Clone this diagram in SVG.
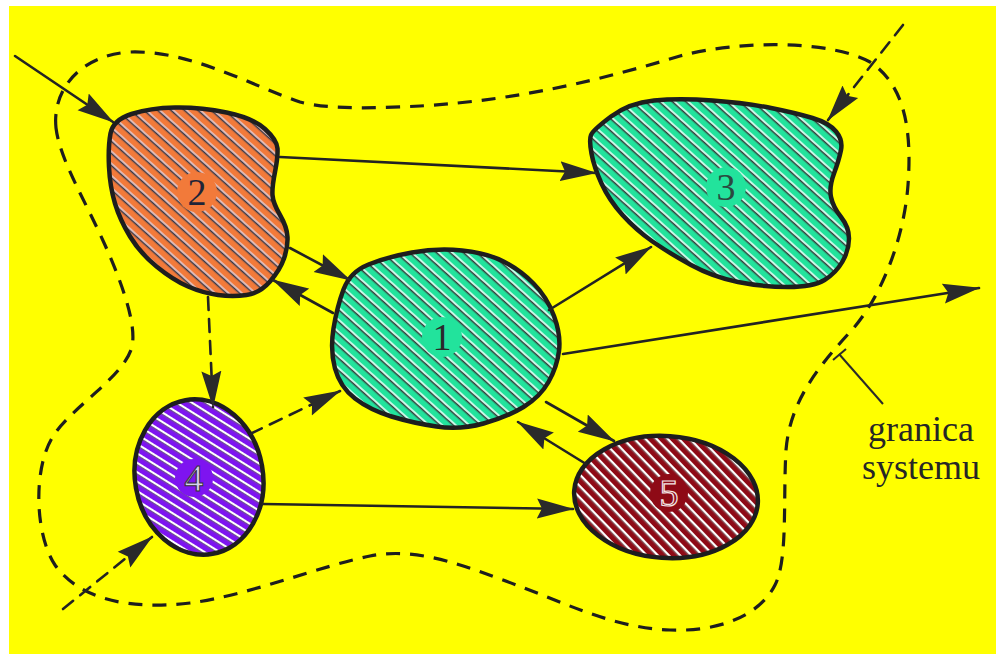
<svg xmlns="http://www.w3.org/2000/svg" width="996" height="654" viewBox="0 0 996 654">
<style>
.node{stroke:#1e1e1e;stroke-width:4.5;stroke-linejoin:round}
.conn{fill:none;stroke:#232323;stroke-width:2.6;stroke-linecap:round}
.dash{stroke-dasharray:13 9}
.bound{fill:none;stroke:#1e1e1e;stroke-width:3.2;stroke-dasharray:14 10}
.num{font-family:"Liberation Serif","Times New Roman",serif;font-size:38px;text-anchor:middle}
.lbl{font-family:"Liberation Serif","Times New Roman",serif;font-size:36px;text-anchor:middle;fill:#262626}
</style>
<defs>
<marker id="ah" markerUnits="userSpaceOnUse" markerWidth="38" markerHeight="22" refX="36" refY="11" orient="auto">
<path d="M0,1 L37,11 L0,21 L5,11 Z" fill="#2a2a2a"/>
</marker>
<pattern id="hGreen" width="9" height="9" patternUnits="userSpaceOnUse" patternTransform="rotate(42)">
<rect width="9" height="9" fill="#22E39C"/>
<line x1="0" y1="2" x2="9" y2="2" stroke="#ffffff" stroke-width="1.5"/>
<line x1="0" y1="3.7" x2="9" y2="3.7" stroke="#3a3a3a" stroke-width="1.4"/>
</pattern>
<pattern id="hOrange" width="9" height="9" patternUnits="userSpaceOnUse" patternTransform="rotate(42)">
<rect width="9" height="9" fill="#F27A3A"/>
<line x1="0" y1="2" x2="9" y2="2" stroke="#dfe4ff" stroke-width="1.3"/>
<line x1="0" y1="3.6" x2="9" y2="3.6" stroke="#33384a" stroke-width="1.4"/>
</pattern>
<pattern id="hPurple" width="8" height="8" patternUnits="userSpaceOnUse" patternTransform="rotate(42)">
<rect width="8" height="8" fill="#7E14F0"/>
<line x1="0" y1="2" x2="8" y2="2" stroke="#ffffff" stroke-width="2"/>
<line x1="0" y1="3.7" x2="8" y2="3.7" stroke="#6a6a6a" stroke-width="0.9"/>
</pattern>
<pattern id="hRed" width="8" height="8" patternUnits="userSpaceOnUse" patternTransform="rotate(42)">
<rect width="8" height="8" fill="#8E0A16"/>
<line x1="0" y1="2" x2="8" y2="2" stroke="#ffffff" stroke-width="2"/>
<line x1="0" y1="3.7" x2="8" y2="3.7" stroke="#888" stroke-width="0.9"/>
</pattern>
</defs>

<rect x="0" y="0" width="996" height="654" fill="#ffffff"/>
<rect x="9" y="6" width="987" height="648" fill="#FFFF00"/>

<g id="boundary">
<path class="bound" d="M56,128 C52,90 80,55 130,52 C190,50 250,85 300,102 C330,110 380,108 420,106 C520,100 600,80 680,56 C740,40 830,40 870,62 C905,85 912,130 908,185 C904,240 880,300 850,332 C820,365 790,400 786,450 C783,500 788,560 775,585 C760,615 720,632 670,630 C610,628 560,600 500,579 C450,560 410,548 370,556 C320,566 250,595 190,603 C130,610 80,600 55,565 C35,535 33,470 52,438 C70,408 120,380 131,350 C138,330 125,290 105,245 C85,200 60,160 56,128 Z"/>
<line x1="839" y1="354" x2="883" y2="404" stroke="#2a2a2a" stroke-width="2"/>
<line x1="833" y1="360" x2="846" y2="349" stroke="#2a2a2a" stroke-width="2"/>
<text class="lbl" x="921" y="441">granica</text>
<text class="lbl" x="921" y="479">systemu</text>
</g>

<g id="node2">
<path class="node" fill="url(#hOrange)" d="M110.5,133.5 Q113,120 131.5,114 Q150,108 175,107.5 Q200,107 226.5,112.5 Q253,118 265,129 Q277,140 277.5,148.5 Q278,157 275,172 Q272,187 272.5,195 Q273,203 280,215 Q287,227 287.5,237 Q288,247 284,258.5 Q280,270 270,281.5 Q260,293 246.5,295 Q233,297 218,295 Q203,293 188,286.5 Q173,280 156.5,266.5 Q140,253 130,236.5 Q120,220 115,203.5 Q110,187 109,167 Q108,147 110.5,133.5 Z"/>
<circle cx="197" cy="192" r="20" fill="#F27A3A"/>
<text class="num" x="197" y="205" fill="#1e2438">2</text>
</g>

<g id="node3">
<path class="node" fill="url(#hGreen)" d="M591,135 Q593,130 611,116.5 Q629,103 654,100.5 Q679,98 712.5,100.5 Q746,103 771,108 Q796,113 812.5,118 Q829,123 836,131.5 Q843,140 841,150 Q839,160 834,173.5 Q829,187 831,197 Q833,207 841,217 Q849,227 849,238.5 Q849,250 842.5,261.5 Q836,273 824.5,280 Q813,287 788,287 Q763,287 738,282 Q713,277 691,265 Q669,253 652.5,241.5 Q636,230 622.5,215 Q609,200 601.5,183.5 Q594,167 591.5,153.5 Q589,140 591,135 Z"/>
<circle cx="726" cy="187" r="20" fill="#22E39C"/>
<text class="num" x="726" y="200" fill="#2a4a40">3</text>
</g>

<g id="node1">
<path class="node" fill="url(#hGreen)" d="M333.5,328.5 Q337,307 343.5,289.5 Q350,272 368.5,264.5 Q387,257 412,252.5 Q437,248 462,250.5 Q487,253 503.5,261.5 Q520,270 533.5,283.5 Q547,297 554,316 Q561,335 559,351 Q557,367 548.5,382 Q540,397 523.5,407 Q507,417 483.5,423.5 Q460,430 436.5,426.5 Q413,423 391.5,416.5 Q370,410 355,398.5 Q340,387 335,368.5 Q330,350 333.5,328.5 Z"/>
<circle cx="442" cy="337" r="20" fill="#22E39C"/>
<text class="num" x="442" y="350" fill="#2a2a2a">1</text>
</g>

<g id="node4">
<ellipse class="node" fill="url(#hPurple)" cx="199" cy="477" rx="64" ry="78" transform="rotate(-10 199 477)"/>
<circle cx="194" cy="478" r="19" fill="#7E14F0"/>
<text class="num" x="194" y="491" fill="#d8d0f0" stroke="#333" stroke-width="1">4</text>
</g>

<g id="node5">
<ellipse class="node" fill="url(#hRed)" cx="666" cy="497" rx="92" ry="61" transform="rotate(4 666 497)"/>
<circle cx="669" cy="493" r="19" fill="#8E0A16"/>
<text class="num" x="669" y="506" fill="#8E0A16" stroke="#f3e6e6" stroke-width="1.2">5</text>
</g>

<g id="connectors">
<line class="conn" x1="15" y1="56" x2="113" y2="122" marker-end="url(#ah)"/>
<line class="conn" x1="280" y1="157" x2="596" y2="173" marker-end="url(#ah)"/>
<line class="conn" x1="290" y1="248" x2="350" y2="280" marker-end="url(#ah)"/>
<line class="conn" x1="333" y1="313" x2="273" y2="280" marker-end="url(#ah)"/>
<line class="conn" x1="549" y1="310" x2="651" y2="247" marker-end="url(#ah)"/>
<line class="conn" x1="563" y1="354" x2="979" y2="288" marker-end="url(#ah)"/>
<line class="conn" x1="546" y1="402" x2="614" y2="441" marker-end="url(#ah)"/>
<line class="conn" x1="586" y1="464" x2="518" y2="422" marker-end="url(#ah)"/>
<line class="conn" x1="263" y1="504" x2="573" y2="509" marker-end="url(#ah)"/>
<line class="conn dash" x1="903" y1="25" x2="828" y2="120" marker-end="url(#ah)"/>
<line class="conn dash" x1="208" y1="297" x2="213" y2="407" marker-end="url(#ah)"/>
<line class="conn dash" x1="250" y1="434" x2="340" y2="391" marker-end="url(#ah)"/>
<line class="conn dash" x1="63" y1="609" x2="152" y2="537" marker-end="url(#ah)"/>
</g>
</svg>
